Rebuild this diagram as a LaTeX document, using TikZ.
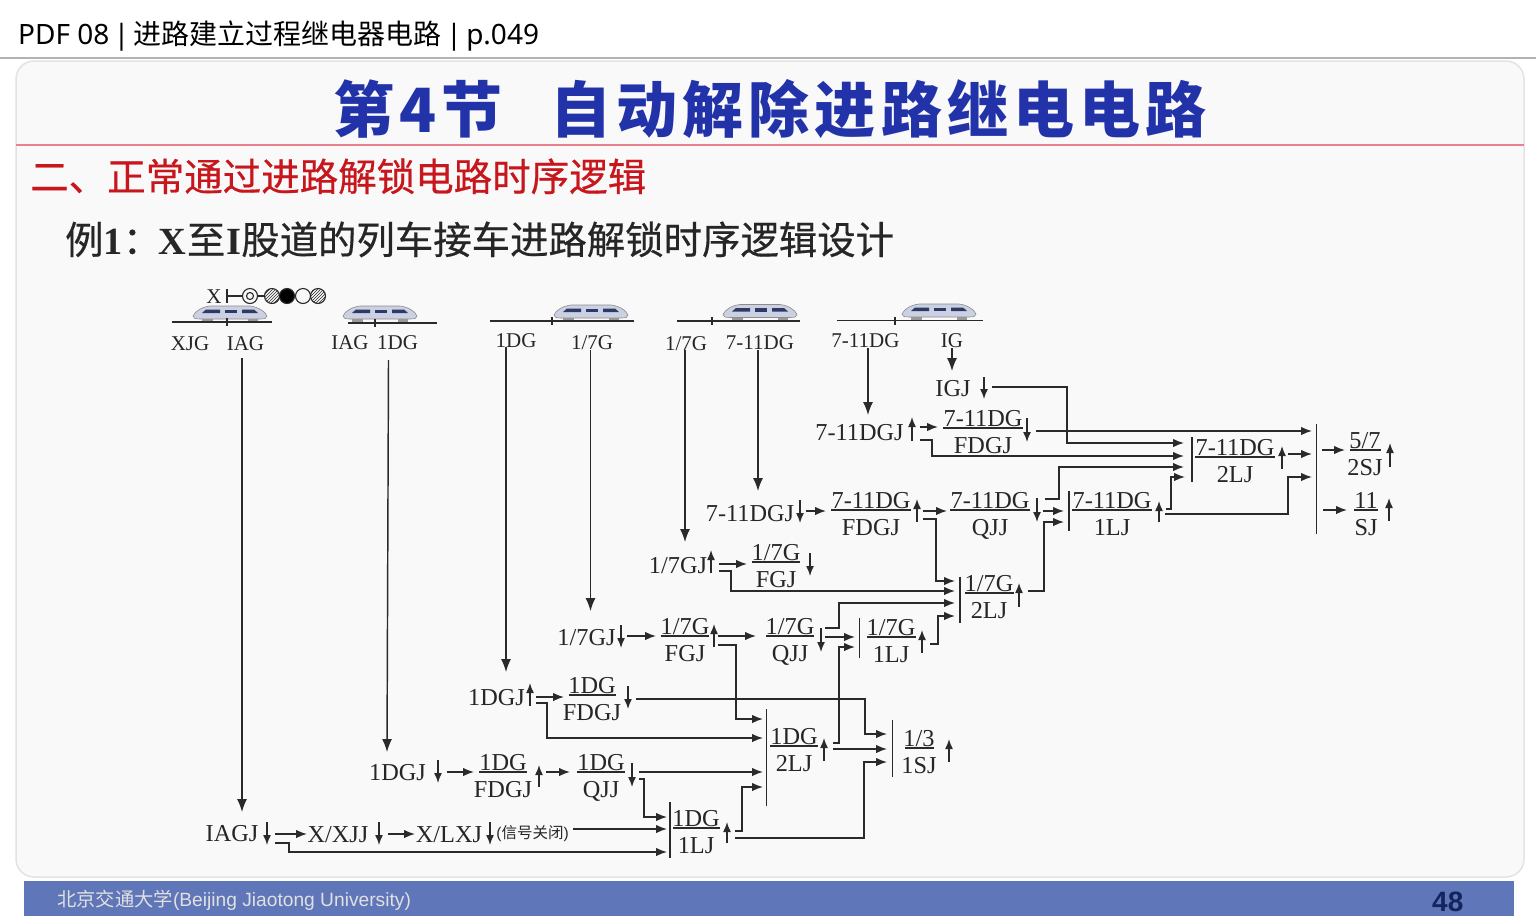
\documentclass[tikz,border=0pt]{standalone}
\usepackage{fontspec}
\setmainfont{Liberation Serif}
\newfontfamily\cjk{Noto Sans CJK SC}
\newfontfamily\cjkwide[LetterSpace=8.5]{Noto Sans CJK SC}
\newfontfamily\cjkfat[FakeBold=0.5]{Noto Sans CJK SC}
\newfontfamily\headfont{Noto Sans}
\newfontfamily\footfont{Liberation Sans}
\usetikzlibrary{arrows.meta,patterns}
\definecolor{linecol}{HTML}{2A2A2A}
\definecolor{panelcol}{HTML}{F9F9F9}
\definecolor{titleblue}{HTML}{2233AA}
\definecolor{headred}{HTML}{C8161D}
\definecolor{rulered}{HTML}{E9808E}
\definecolor{barblue}{HTML}{5F76B9}
\definecolor{numblue}{HTML}{14255E}
\definecolor{traincol}{HTML}{CBD0E2}
\definecolor{windowcol}{HTML}{2C3A66}
\tikzset{
    lab/.style={inner sep=0pt, yshift=-1pt, text=black!85, text height=15.5pt, text depth=0pt, font=\fontsize{24.3}{25}\selectfont},
    toplab/.style={inner sep=0pt, text=black!85, text height=14pt, text depth=0pt, font=\fontsize{21}{21}\selectfont},
    conn/.style={draw=linecol, line width=1.45pt, -{Latex[length=11pt,width=8.5pt]}},
    longconn/.style={draw=linecol, line width=1.45pt, -{Latex[length=13pt,width=10pt]}},
    stat/.style={draw=linecol, line width=1.45pt, -{Latex[length=10pt,width=8pt]}},
    relrule/.style={inner sep=0pt, fill=linecol, minimum height=1.5pt},
    relbar/.style={inner sep=0pt, fill=linecol, minimum width=1.7pt},
    lamp/.style={circle, draw=linecol, line width=1.1pt, inner sep=0pt, minimum size=15pt},
    track/.style={draw=linecol, line width=1.3pt},
    texthead/.style={inner sep=0pt, anchor=base west},
}
\newcommand{\relay}[6]{
    \node[lab] (#1t) at (#2,#3-10) {#5};
    \node[relrule, minimum width=#4] (#1r) at (#2,#3) {};
    \node[lab] (#1b) at (#2,#3+17) {#6};
}
\begin{document}
\begin{tikzpicture}[x=1pt,y=-1pt]
    \useasboundingbox (0,0) rectangle (1536,922);
    \fill[white] (0,0) rectangle (1536,922);
    % page frame
    \node[texthead, font=\fontsize{28}{28}\selectfont] (pagehead) at (18,44) {\headfont PDF 08\hspace{4.5pt}|\hspace{4.5pt}\cjk 进路建立过程继电器电路\headfont\hspace{4.5pt}|\hspace{4.5pt}p.049};
    \draw[black!30, line width=1.5pt] (0,58) to (1536,58);
    \draw[black!11, fill=panelcol, line width=1.5pt, rounded corners=18pt] (16,61) rectangle (1524,877);
    \draw[rulered, line width=2pt] (16,145) to (1524,145);
    \fill[barblue] (24,881) rectangle (1514,916);
    % texts
    \node[texthead, text=titleblue, font=\fontsize{61}{61}\selectfont\bfseries] (titlea) at (333,132) {\cjkwide 第4节};
    \node[texthead, text=titleblue, font=\fontsize{61}{61}\selectfont\bfseries] (titleb) at (550,132) {\cjkwide 自动解除进路继电电路};
    \node[texthead, text=headred, font=\fontsize{38.5}{38}\selectfont] (heading) at (30,191) {\cjkfat 二、正常通过进路解锁电路时序逻辑};
    \node[texthead, text=black!85, font=\fontsize{38.4}{38}\selectfont] (exa) at (65,254) {\cjkfat 例\textbf{\rmfamily 1}：};
    \node[texthead, text=black!85, font=\fontsize{38.4}{38}\selectfont] (exb) at (158,254) {\textbf{X}\cjkfat\hspace{1pt}至\hspace{1pt}\textbf{\rmfamily I}股道的列车接车进路解锁时序逻辑设计};
    \node[texthead, text=black!12, font=\fontsize{19.3}{19}\selectfont] (school) at (57,906) {\cjk 北京交通大学\footfont\fontsize{19.2}{19}\selectfont(Beijing Jiaotong University)};
    \node[texthead, text=numblue, font=\fontsize{28}{28}\selectfont\bfseries] (pageno) at (1432,911) {\footfont 48};
    % trains on the tracks
    \foreach \x/\y in {230/314, 380/314, 591/313, 760/312.5, 939/312}{
        \begin{scope}[shift={(\x,\y)}]
            \fill[black!40] (-28,4) rectangle (-17,8);
            \fill[black!40] (18,4) rectangle (28,8);
            \draw[black!45, fill=traincol, line width=0.6pt] (-37,2) .. controls (-35,-3) and (-28,-7) .. (-20,-8) to (20,-8) .. controls (28,-7) and (35,-3) .. (37,2) .. controls (37,4) and (35,5) .. (30,5) to (-30,5) .. controls (-35,5) and (-37,4) .. (-37,2) to cycle;
            \fill[windowcol] (-28,-1) to (-24,-4.5) to (-10,-4.5) to (-10,-1) to cycle;
            \fill[windowcol] (-5,-4.5) rectangle (7,-1);
            \fill[windowcol] (12,-4.5) to (24,-4.5) to (28,-1) to (12,-1) to cycle;
        \end{scope}
    }
    \foreach \a/\b/\t/\y in {172/272/227/322, 348/437/375/323, 490/634/552/321, 677/800/712/321, 837/983/895/320.5}{
        \draw[track] (\a,\y) to (\b,\y);
        \draw[track] (\t,\y-4) to (\t,\y+4);
    }
    % signal
    \node[toplab] (sigx) at (214,296) {X};
    \coordinate (sigpost) at (227,296);
    \node[lamp] (lampa) at (250,296) {};
    \node[lamp, minimum size=7pt] (lampai) at (250,296) {};
    \node[lamp, pattern=north east lines, pattern color=linecol] (lampb) at (272,296) {};
    \node[lamp, pattern=north east lines, pattern color=linecol] (lampe) at (318,296) {};
    \node[lamp, fill=panelcol] (lampd) at (303,296) {};
    \node[lamp, fill=black] (lampc) at (287,296) {};
    \draw[linecol, line width=1.3pt] (sigpost) to (lampa);
    \draw[linecol, line width=1.3pt] (lampa) to (lampb);
    \draw[linecol, line width=1.3pt] ([yshift=7pt]sigpost) to ([yshift=-7pt]sigpost);
    % section names
    \node[toplab] (lxjg) at (190,343) {XJG};
    \node[toplab] (liaga) at (245.5,343) {IAG};
    \node[toplab] (liagb) at (350,342) {IAG};
    \node[toplab] (ldga) at (397.5,342) {1DG};
    \node[toplab] (ldgb) at (516,340) {1DG};
    \node[toplab] (lsva) at (592,342) {1/7G};
    \node[toplab] (lsvb) at (686,343) {1/7G};
    \node[toplab] (lela) at (760,342) {7-11DG};
    \node[toplab] (lelb) at (865.5,340) {7-11DG};
    \node[toplab] (lig) at (952,340) {IG};
    % relays
    \node[lab] (igj) at (953,388) {IGJ};
    \node[lab] (gjelu) at (859.5,432) {7-11DGJ};
    \node[lab] (gjeld) at (750,513) {7-11DGJ};
    \node[lab] (gjsvu) at (678,565) {1/7GJ};
    \node[lab] (gjsvd) at (586.5,637) {1/7GJ};
    \node[lab] (gjdu) at (496.5,697) {1DGJ};
    \node[lab] (gjdd) at (397.5,772) {1DGJ};
    \node[lab] (iagj) at (232,833) {IAGJ};
    \node[lab] (xjj) at (338,834) {X/XJJ};
    \node[lab] (lxj) at (449,834) {X/LXJ};
    \node[inner sep=0pt, text=black!85, font=\fontsize{15.5}{16}\selectfont] (closed) at (532.5,833.5) {\footfont(\cjk 信号关闭\footfont)};
    \relay{fdelu}{983}{428}{80}{7-11DG}{FDGJ}
    \relay{ljelb}{1235}{457}{80}{7-11DG}{2LJ}
    \relay{sjsf}{1365}{450}{31}{5/7}{2SJ}
    \relay{sjel}{1366}{510}{24}{11}{SJ}
    \relay{fdeld}{871}{510}{80}{7-11DG}{FDGJ}
    \relay{qjel}{990}{510}{80}{7-11DG}{QJJ}
    \relay{ljela}{1112}{510}{80}{7-11DG}{1LJ}
    \relay{fgsvu}{776}{562}{48}{1/7G}{FGJ}
    \relay{ljsvb}{989}{593}{49}{1/7G}{2LJ}
    \relay{fgsvd}{685}{636}{48}{1/7G}{FGJ}
    \relay{qjsv}{790}{636}{48}{1/7G}{QJJ}
    \relay{ljsva}{891}{637}{49}{1/7G}{1LJ}
    \relay{fddu}{592}{695}{47}{1DG}{FDGJ}
    \relay{ljdb}{794}{746}{48}{1DG}{2LJ}
    \relay{sjot}{919}{748}{29}{1/3}{1SJ}
    \relay{fddd}{503}{772}{48}{1DG}{FDGJ}
    \relay{qjd}{601}{772}{48}{1DG}{QJJ}
    \relay{ljda}{696}{828}{47}{1DG}{1LJ}
    % contact bars
    \foreach \n/\x/\y/\h in {barelb/1192/459.5/45, barbig/1316.5/479/110, barela/1069/511/40, barsvb/960/600/46, barsva/859.5/638/40, bardb/766.5/757.5/97, barot/892.5/748.5/57, barda/670/830/56}
        \node[relbar, minimum height=\h] (\n) at (\x,\y) {};
    % state arrows
    \foreach \x/\a/\b in {984/377/399, 912/441/417, 1027/418/442, 1282/469/446, 1390/467/443, 1389/521/498, 800/500/523, 917/522/499, 1037/498/522, 1159/522/501, 711/573/550, 810/553/576, 1019/607/583, 621/625/648, 714/647/624, 821/628/652, 922/653/630, 530/706/683, 628/686/709, 824/761/738, 949/762/739, 438/760/783, 539/787/765, 632/763/787, 727/843/822, 267/822/845, 379/822/845, 490/822/845}
        \draw[stat] (\x,\a) to (\x,\b);
    % long arrows from the sections down to their GJ
    \draw[longconn] ([xshift=-3.5pt,yshift=-8pt]liaga.south) to ([xshift=10pt,yshift=14pt]iagj.north);
    \draw[longconn] ([xshift=-9pt,yshift=-11pt]ldga.south) to ([xshift=-10.5pt,yshift=13pt]gjdd.north);
    \draw[longconn] ([xshift=-10pt]ldgb.south) to ([xshift=9.5pt,yshift=18pt]gjdu.north);
    \draw[longconn] ([xshift=-1.5pt,yshift=-1pt]lsva.south) to ([xshift=4pt,yshift=19pt]gjsvd.north);
    \draw[longconn] ([xshift=-1pt]lsvb.south) to ([xshift=7pt,yshift=16pt]gjsvu.north);
    \draw[longconn] ([xshift=-2pt,yshift=-1pt]lela.south) to ([xshift=8pt,yshift=15pt]gjeld.north);
    \draw[longconn] ([xshift=2.5pt,yshift=-1pt]lelb.south) to ([xshift=8.5pt,yshift=10pt]gjelu.north);
    \draw[longconn] ([yshift=-1pt]lig.south) to ([xshift=-1pt,yshift=10pt]igj.north);
    % connector ends
    \foreach \n/\x/\y in {
        igjo/992/387, gjeluoa/920/427, gjeluob/920/440, fdelui/938/427, fdeluo/1036/431,
        ljelbia/1184/443, ljelbib/1184/456, ljelbic/1184/467, ljelbid/1185/477, ljelbo/1288/454,
        bigia/1312/431, bigib/1312/454, bigic/1312/477, bigoa/1322/450, bigob/1323/510,
        sjsfi/1345/450, sjeli/1347/510,
        gjeldo/806/511, fdeldi/826/511, fdeldoa/923/511, fdeldob/923/519, qjeli/947/511,
        qjeloa/1045/499, qjelob/1043/511, ljelaia/1064/511, ljelaib/1064/522, ljelaoa/1166/509, ljelaob/1165/514,
        gjsvuoa/719/564, gjsvuob/719/571, fgsvui/747/564,
        ljsvbia/955/581, ljsvbib/955/591, ljsvbic/955/603, ljsvbid/955/616, ljsvbo/1028/591,
        gjsvdo/627/636, fgsvdi/656/636, fgsvdoa/718/636, fgsvdob/718/645, qjsvi/756/636,
        qjsvoa/825/628, qjsvob/825/637, ljsvaia/855/637, ljsvaib/855/647, ljsvao/930/644,
        gjduoa/536/697, gjduob/536/703, fddui/564/697, fdduo/636/699,
        ljdbia/763/719, ljdbib/763/738, ljdbic/763/772, ljdbid/763/787, ljdboa/833/743, ljdbob/833/749,
        sjotia/887/734, sjotib/887/749, sjotic/887/762,
        gjddo/447/772, fdddi/474/772, fdddo/546/772, qjdi/570/772, qjdoa/639/772, qjdob/639/779,
        ljdaia/667/817, ljdaib/667/829, ljdaic/667/852, ljdaoa/735/831, ljdaob/735/838,
        iagjoa/275/834, iagjob/275/843, xjji/307/834, xjjo/388/834, lxji/415/834, closedo/573/829}
        \coordinate (\n) at (\x,\y);
    % straight connectors
    \foreach \a/\b in {gjeluoa/fdelui, fdeluo/bigia, ljelbo/bigib, bigoa/sjsfi, bigob/sjeli, gjeldo/fdeldi, fdeldoa/qjeli, qjelob/ljelaia, gjsvuoa/fgsvui, gjsvdo/fgsvdi, fgsvdoa/qjsvi, qjsvob/ljsvaia, gjduoa/fddui, ljdbob/sjotib, gjddo/fdddi, fdddo/qjdi, qjdoa/ljdbic, iagjoa/xjji, xjjo/lxji, closedo/ljdaib}
        \draw[conn] (\a) to (\b);
    % connectors with a riser at x = \c
    \foreach \a/\c/\b in {igjo/1067/ljelbia, gjeluob/932/ljelbib, ljelaob/1288/bigic, fdeldob/936/ljsvbia, qjeloa/1059/ljelbic, ljsvbo/1044/ljelaib, ljelaoa/1171/ljelbid, gjsvuob/731/ljsvbib, qjsvoa/839/ljsvbic, ljsvao/938/ljsvbid, fgsvdob/736/ljdbia, ljdboa/839/ljsvaib, gjduob/547/ljdbib, fdduo/865/sjotia, ljdaob/864/sjotic, qjdob/644/ljdaia, ljdaoa/742/ljdbid, iagjob/289/ljdaic}
        \draw[conn] (\a) -- (\a -| \c,0) |- (\b);
\end{tikzpicture}
\end{document}
